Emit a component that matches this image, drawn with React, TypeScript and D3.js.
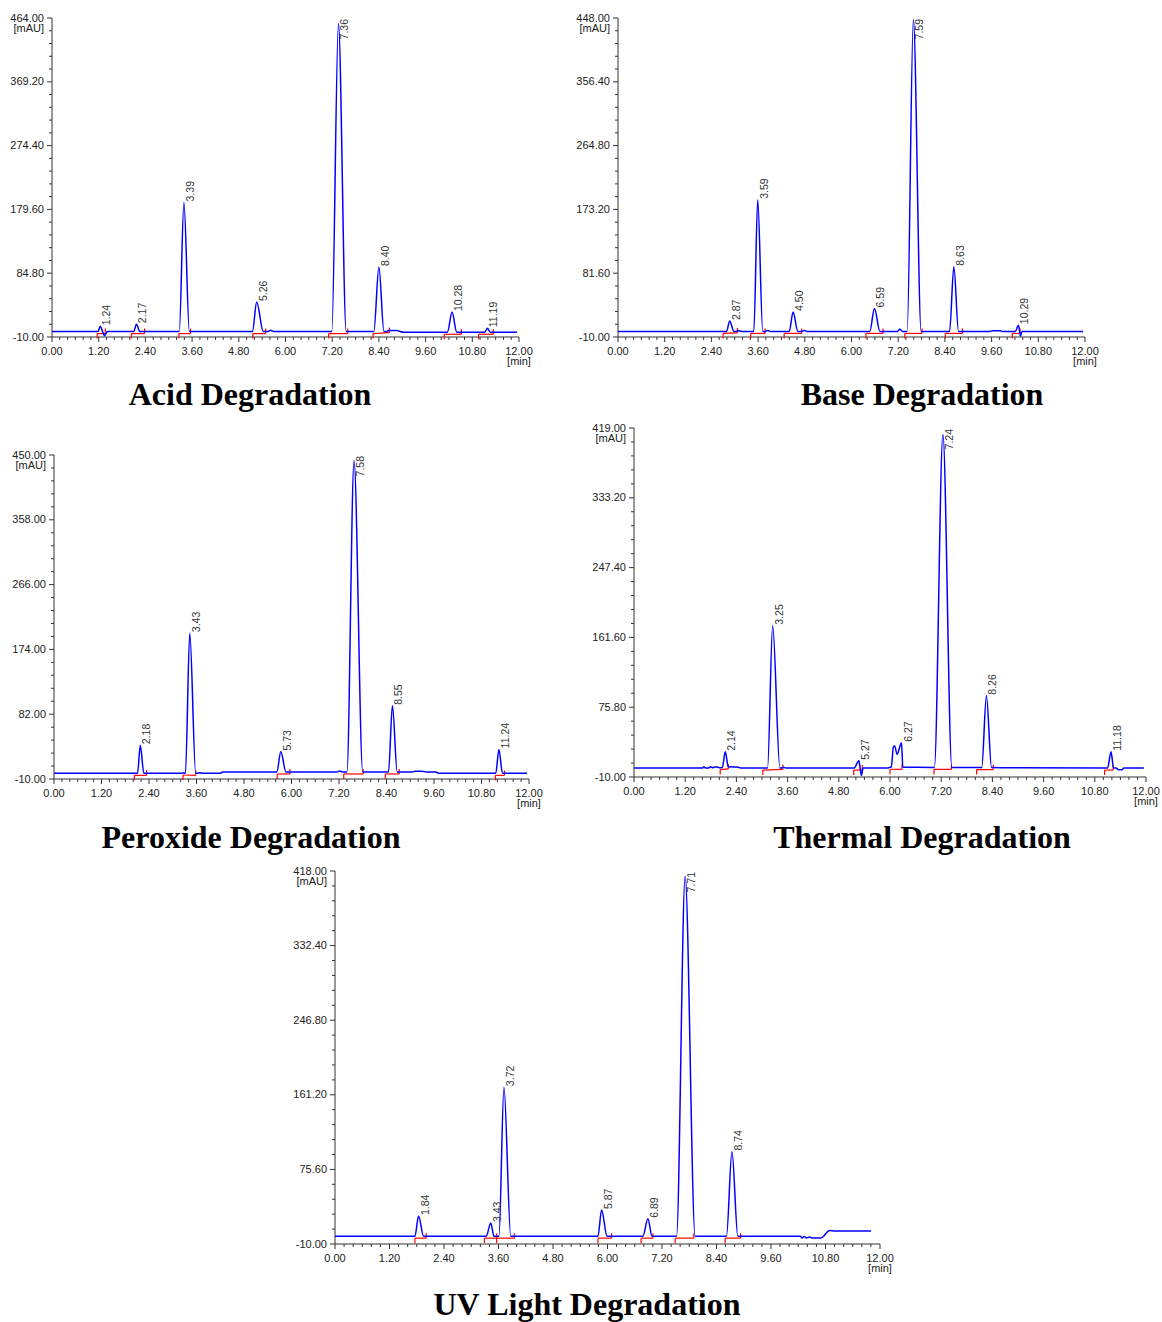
import React from "react";
import * as d3 from "d3";

type Pt = [number, number];
type Peak = [number, number, number, number]; // [retention time, apex mAU, start, end]

// ---------- shared axis values ----------
const xTickValues = [0, 1.2, 2.4, 3.6, 4.8, 6.0, 7.2, 8.4, 9.6, 10.8, 12.0];

// ---------- Acid ----------
const acidTitle = "Acid Degradation";
const acidYTicks = [464, 369.2, 274.4, 179.6, 84.8, -10];
const acidPeaks: Peak[] = [
  [1.24, 6, 1.18, 1.3],
  [2.17, 9, 2.1, 2.26],
  [3.39, 190, 3.27, 3.53],
  [5.26, 42, 5.15, 5.43],
  [7.36, 456, 7.19, 7.56],
  [8.4, 94, 8.27, 8.53],
  [10.28, 27, 10.16, 10.4],
  [11.19, 3, 11.12, 11.26],
];
const acidBaseline: Pt[] = [
  [0, -2], [5.55, -2], [5.62, 0], [5.7, -2], [8.6, -2], [8.65, -0.5], [8.85, -0.5],
  [9.05, -3], [11.95, -3],
];
const acidExtra: Pt[] = [[1.35, -8], [1.42, -2]];
const acidMarks: Pt[] = [
  [1.16, 1.37], [2.04, 2.38], [3.26, 3.56], [5.16, 5.49], [7.11, 7.6], [8.25, 8.67],
  [10.08, 10.52], [10.96, 11.34],
];

// ---------- Base ----------
const baseTitle = "Base Degradation";
const baseYTicks = [448, 356.4, 264.8, 173.2, 81.6, -10];
const basePeaks: Peak[] = [
  [2.87, 13, 2.79, 2.98],
  [3.59, 187, 3.49, 3.72],
  [4.5, 26, 4.4, 4.62],
  [6.59, 31, 6.47, 6.73],
  [7.59, 446, 7.43, 7.79],
  [8.63, 91, 8.52, 8.75],
  [10.29, 7, 10.21, 10.32],
];
const baseBaseline: Pt[] = [
  [0, -2], [3.02, -2], [3.08, -1], [3.18, -2], [3.78, -2], [3.84, -0.5], [3.92, -2],
  [4.72, -2], [4.78, -0.5], [4.86, -2], [7.18, -2], [7.24, 1], [7.31, -2], [9.55, -2],
  [9.62, -1], [9.82, -1], [9.88, -2], [11.95, -2],
];
const baseExtra: Pt[] = [[10.34, -9], [10.38, -2]];
const baseMarks: Pt[] = [
  [2.7, 3.07], [3.41, 3.78], [4.27, 4.72], [6.37, 6.81], [7.37, 7.81], [8.41, 8.85],
  [10.13, 10.33],
];

// ---------- Peroxide ----------
const peroxTitle = "Peroxide Degradation";
const peroxYTicks = [450, 358, 266, 174, 82, -10];
const peroxPeaks: Peak[] = [
  [2.18, 38, 2.11, 2.27],
  [3.43, 197, 3.32, 3.58],
  [5.73, 29, 5.63, 5.86],
  [7.58, 442, 7.4, 7.8],
  [8.55, 94, 8.45, 8.67],
  [11.24, 32, 11.16, 11.33],
];
const peroxBaseline: Pt[] = [
  [0, -2], [3.24, -2], [3.28, -1], [3.31, -2], [3.62, -2], [3.68, -1], [3.75, -2],
  [4.2, -2], [4.26, 0], [7.15, 0], [7.22, 1.5], [7.28, 0], [9.05, 0], [9.12, 1],
  [9.3, 1], [9.4, 0], [9.65, 0], [9.72, -2], [11.95, -2],
];
const peroxExtra: Pt[] = [];
const peroxMarks: Pt[] = [
  [2.03, 2.34], [3.26, 3.58], [5.64, 5.96], [7.32, 7.81], [8.37, 8.72], [11.15, 11.38],
];

// ---------- Thermal ----------
const thermTitle = "Thermal Degradation";
const thermYTicks = [419, 333.2, 247.4, 161.6, 75.8, -10];
const thermPeaks: Peak[] = [
  [2.14, 21, 2.07, 2.21],
  [3.25, 176, 3.13, 3.42],
  [5.27, 10, 5.16, 5.3],
  [6.27, 32, 6.03, 6.3],
  [7.24, 411, 7.04, 7.45],
  [8.26, 90, 8.15, 8.38],
  [11.18, 21, 11.1, 11.24],
];
const thermBaseline: Pt[] = [
  [0, 1], [1.6, 1], [1.64, 2.5], [1.68, 1], [1.75, 1], [1.8, 2.5], [1.85, 1.5],
  [1.92, 2.5], [2.0, 1.5], [2.25, 2.5], [2.45, 2], [2.5, 1], [3.45, 1], [3.5, 2],
  [3.56, 1], [5.95, 1], [6.0, 2], [11.3, 1], [11.36, -1], [11.44, -1], [11.48, 1],
  [11.95, 1],
];
const thermExtra: Pt[] = [[5.33, -8], [5.37, 1], [6.08, 27], [6.11, 28], [6.165, 18]];
const thermMarks: Pt[] = [
  [2.02, 2.21], [3.02, 3.49], [5.15, 5.35], [6.0, 6.28], [7.03, 7.44], [8.03, 8.42],
  [11.03, 11.23],
];

// ---------- UV ----------
const uvTitle = "UV Light Degradation";
const uvYTicks = [418, 332.4, 246.8, 161.2, 75.6, -10];
const uvPeaks: Peak[] = [
  [1.84, 22, 1.76, 1.95],
  [3.43, 14, 3.33, 3.5],
  [3.72, 170, 3.61, 3.87],
  [5.87, 29, 5.79, 5.99],
  [6.89, 19, 6.78, 6.98],
  [7.71, 412, 7.52, 7.93],
  [8.74, 96, 8.62, 8.87],
];
const uvBaseline: Pt[] = [
  [0, -1], [10.25, -1], [10.28, -3], [10.33, -1.5], [10.38, -3], [10.45, -2],
  [10.5, -3], [10.7, -3], [10.76, -1], [10.84, 4], [10.9, 5.5], [11.0, 5], [11.8, 5],
];
const uvExtra: Pt[] = [];
const uvMarks: Pt[] = [
  [1.76, 2.01], [3.29, 3.56], [3.56, 3.95], [5.79, 6.09], [6.74, 7.0], [7.49, 7.9],
  [8.59, 8.93],
];

// ---------- layout ----------
interface Cfg {
  title: string;
  yTicks: number[];
  peaks: Peak[];
  baseline: Pt[];
  extra: Pt[];
  marks: Pt[];
  left: number;
  right: number;
  top: number;
  bottom: number;
  titleX: number;
  titleY: number;
}

const panels: Cfg[] = [
  { title: acidTitle, yTicks: acidYTicks, peaks: acidPeaks, baseline: acidBaseline, extra: acidExtra, marks: acidMarks,
    left: 52, right: 519, top: 18, bottom: 337, titleX: 250, titleY: 405 },
  { title: baseTitle, yTicks: baseYTicks, peaks: basePeaks, baseline: baseBaseline, extra: baseExtra, marks: baseMarks,
    left: 618, right: 1085, top: 18, bottom: 337, titleX: 922, titleY: 405 },
  { title: peroxTitle, yTicks: peroxYTicks, peaks: peroxPeaks, baseline: peroxBaseline, extra: peroxExtra, marks: peroxMarks,
    left: 54, right: 529, top: 455, bottom: 779, titleX: 251, titleY: 848 },
  { title: thermTitle, yTicks: thermYTicks, peaks: thermPeaks, baseline: thermBaseline, extra: thermExtra, marks: thermMarks,
    left: 634, right: 1146, top: 428, bottom: 777, titleX: 922, titleY: 848 },
  { title: uvTitle, yTicks: uvYTicks, peaks: uvPeaks, baseline: uvBaseline, extra: uvExtra, marks: uvMarks,
    left: 335, right: 880, top: 871, bottom: 1244, titleX: 587, titleY: 1315 },
];

const SANS = "'Liberation Sans', Arial, sans-serif";
const SERIF = "'Liberation Serif', 'Times New Roman', serif";
const AXIS = "#333";
const LABEL_FS = 10.5;

function baseAtFn(base: Pt[]) {
  return (t: number) => {
    if (t <= base[0][0]) return base[0][1];
    for (let i = 1; i < base.length; i++) {
      if (t <= base[i][0]) {
        const [t0, v0] = base[i - 1];
        const [t1, v1] = base[i];
        return v0 + ((v1 - v0) * (t - t0)) / (t1 - t0);
      }
    }
    return base[base.length - 1][1];
  };
}

function buildTrace(cfg: Cfg): Pt[] {
  const baseAt = baseAtFn(cfg.baseline);
  const inPeak = (t: number) => cfg.peaks.some((p) => t >= p[2] && t <= p[3]);
  const pts: Pt[] = cfg.baseline.filter((p) => !inPeak(p[0]));
  cfg.peaks.forEach(([rt, h, s, e]) => {
    pts.push([s, baseAt(s)], [rt, h], [e, baseAt(e)]);
  });
  cfg.extra.forEach((p) => pts.push(p));
  pts.sort((a, b) => a[0] - b[0]);
  return pts;
}

function textLen(s: string, fs: number) {
  let w = 0;
  for (const c of s) w += c === "." ? 0.278 : 0.556;
  return w * fs;
}

function Chromatogram({ cfg }: { cfg: Cfg }) {
  const ymax = cfg.yTicks[0];
  const x = d3.scaleLinear().domain([0, 12]).range([cfg.left, cfg.right]);
  const y = d3.scaleLinear().domain([-10, ymax]).range([cfg.bottom, cfg.top]);
  const trace = buildTrace(cfg);
  const line = d3
    .line<Pt>()
    .x((d) => x(d[0]))
    .y((d) => y(d[1]))
    .curve(d3.curveMonotoneX);
  const baseAt = baseAtFn(cfg.baseline);

  const yMinor = d3.range(0, 26).map((k) => -10 + (k * (ymax + 10)) / 25);
  const xMinor = d3.range(0, 61).map((k) => k * 0.2);

  return (
    <g>
      {/* y axis */}
      <line x1={cfg.left} x2={cfg.left} y1={cfg.top} y2={cfg.bottom} stroke={AXIS} strokeWidth={1} />
      {yMinor.map((v, i) => (
        <line key={"ym" + i} x1={cfg.left - (i % 5 === 0 ? 5 : 3)} x2={cfg.left} y1={y(v)} y2={y(v)} stroke={AXIS} strokeWidth={1} />
      ))}
      {cfg.yTicks.map((v, i) => (
        <text key={"yl" + i} x={cfg.left - 8} y={y(v)} dy="0.33em" textAnchor="end" fontFamily={SANS} fontSize={11} fill="#222">
          {v.toFixed(2)}
        </text>
      ))}
      <text x={cfg.left - 8} y={cfg.top + 10} dy="0.33em" textAnchor="end" fontFamily={SANS} fontSize={11} fill="#222">
        [mAU]
      </text>
      {/* x axis */}
      <line x1={cfg.left} x2={cfg.right} y1={cfg.bottom} y2={cfg.bottom} stroke={AXIS} strokeWidth={1} />
      {xMinor.map((v, i) => (
        <line key={"xm" + i} x1={x(v)} x2={x(v)} y1={cfg.bottom} y2={cfg.bottom + (i % 6 === 0 ? 5 : 3)} stroke={AXIS} strokeWidth={1} />
      ))}
      {xTickValues.map((v, i) => (
        <text key={"xl" + i} x={x(v)} y={cfg.bottom + 18} textAnchor="middle" fontFamily={SANS} fontSize={11} fill="#222">
          {v.toFixed(2)}
        </text>
      ))}
      <text x={x(12)} y={cfg.bottom + 28} textAnchor="middle" fontFamily={SANS} fontSize={11} fill="#222">
        [min]
      </text>
      {/* integration marks */}
      {cfg.marks.map(([s, e], i) => {
        const ys = y(baseAt(s)) + 2;
        const ye = y(baseAt(e)) + 2;
        return (
          <g key={"mk" + i} stroke="#ff0000" strokeWidth={1.2} fill="none">
            <line x1={x(s)} x2={x(s)} y1={ys} y2={ys + 5} />
            <line x1={x(s)} x2={x(e)} y1={ys} y2={ye} />
            <line x1={x(e)} x2={x(e)} y1={ye - 5} y2={ye} />
          </g>
        );
      })}
      {/* trace */}
      <path d={line(trace) || ""} fill="none" stroke="#0000ff" strokeWidth={1.5} strokeLinejoin="round" />
      {/* peak labels */}
      {cfg.peaks.map(([rt, h], i) => {
        const label = rt.toFixed(2);
        const len = textLen(label, LABEL_FS);
        const ly = Math.max(y(h) - 1, cfg.top + len + 1);
        const lx = x(rt) + 10;
        return (
          <text key={"pl" + i} transform={`translate(${lx},${ly}) rotate(-90)`} fontFamily={SANS} fontSize={LABEL_FS} fill="#333">
            {label}
          </text>
        );
      })}
      {/* title */}
      <text x={cfg.titleX} y={cfg.titleY} textAnchor="middle" fontFamily={SERIF} fontWeight="bold" fontSize={32} fill="#000">
        {cfg.title}
      </text>
    </g>
  );
}

export default function App() {
  return (
    <svg
      width={1162}
      height={1322}
      style={{ position: "absolute", left: 0, top: 0, background: "#fff" }}
    >
      <rect x={0} y={0} width={1162} height={1322} fill="#fff" />
      {panels.map((p, i) => (
        <Chromatogram key={i} cfg={p} />
      ))}
    </svg>
  );
}
